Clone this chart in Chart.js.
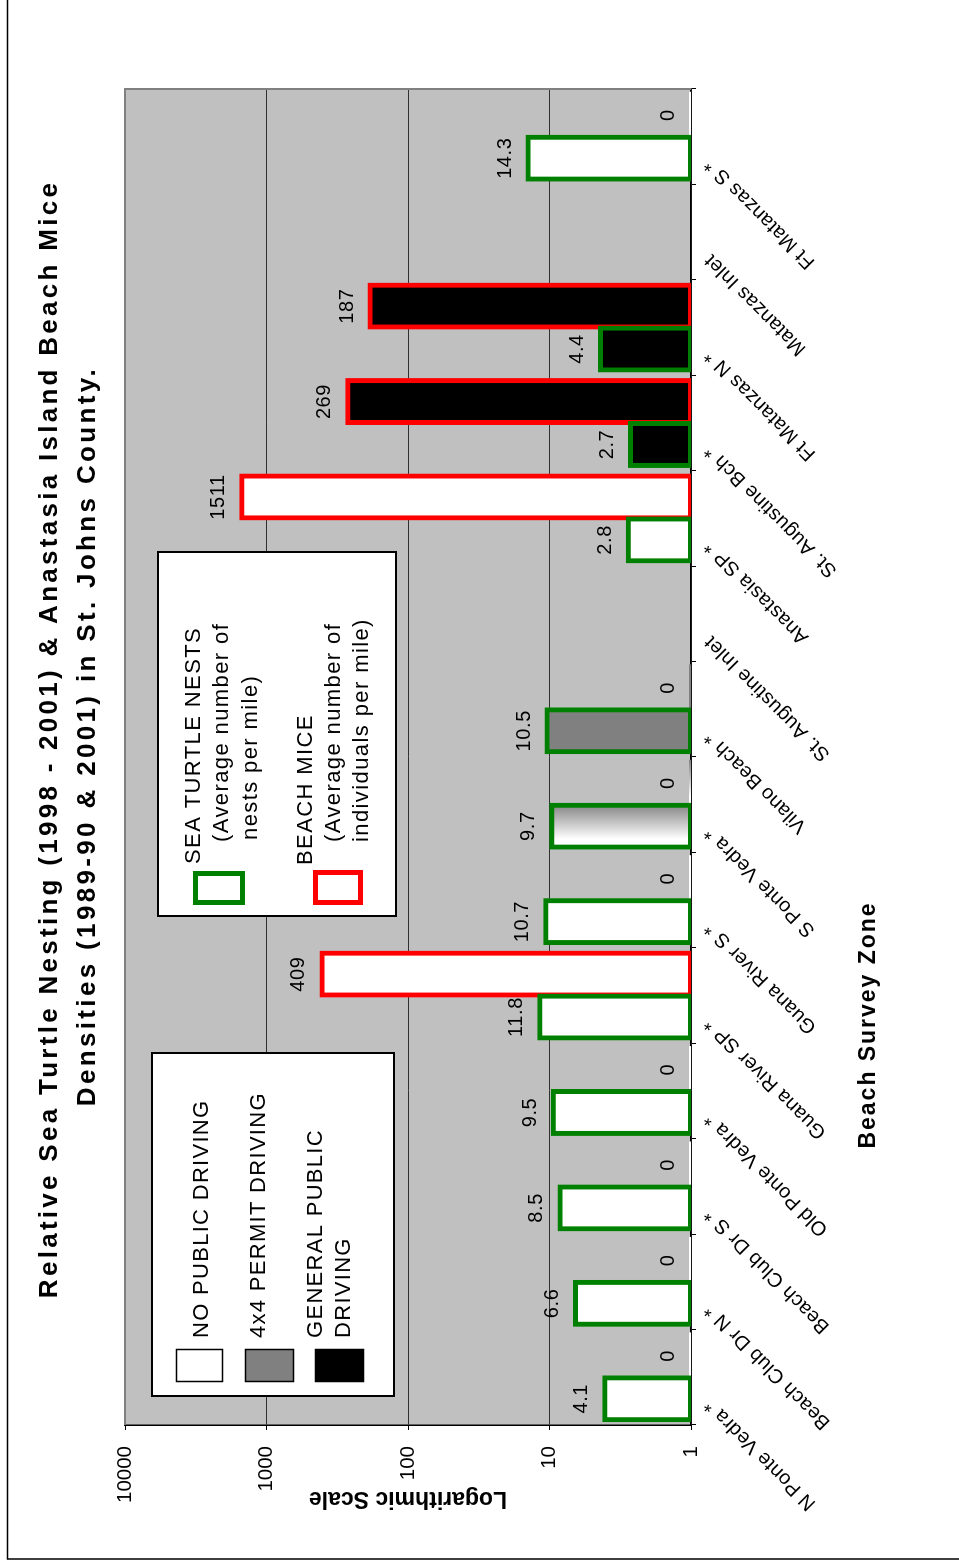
<!DOCTYPE html>
<html>
<head>
<meta charset="utf-8">
<script src="https://cdn.jsdelivr.net/npm/chart.js@4.4.1/dist/chart.umd.min.js"></script>
<style>
html,body{margin:0;padding:0;background:#fff;overflow:hidden;width:959px;height:1564px;}
#wrap{position:absolute;left:0;top:0;width:1564px;height:959px;transform-origin:0 0;transform:translate(0px,1564px) rotate(-90deg);}
canvas{display:block;}
</style>
</head>
<body>
<div id="wrap"><canvas id="c" width="1564" height="959"></canvas></div>
<script>
// ---------------- data ----------------
const categories = ['N Ponte Vedra *','Beach Club Dr N *','Beach Club Dr S *','Old Ponte Vedra *','Guana River SP *','Guana River S *','S Ponte Vedra *','Vilano Beach *','St. Augustine Inlet','Anastasia SP *','St. Augustine Bch *','Ft Matanzas N *','Matanzas Inlet','Ft Matanzas S *'];
const turtleNests = [4.1, 6.6, 8.5, 9.5, 11.8, 10.7, 9.7, 10.5, null, 2.8, 2.7, 4.4, null, 14.3];
const beachMice   = [0, 0, 0, 0, 409, 0, 0, 0, null, 1511, 269, 187, null, 0];
const drivingType = ['none','none','none','none','none','none','mixed','permit',null,'none','general','general',null,'none'];
const valueTicks  = [1, 10, 100, 1000, 10000];
const titleLines  = ['Relative Sea Turtle Nesting (1998 - 2001) & Anastasia Island Beach Mice', 'Densities (1989-90 & 2001) in St. Johns County.'];
const xAxisTitle  = 'Beach Survey Zone';
const yAxisTitle  = 'Logarithmic Scale';
const drivingLegend = [['NO PUBLIC DRIVING'], ['4x4 PERMIT DRIVING'], ['GENERAL PUBLIC', 'DRIVING']];
const seriesLegend  = [['SEA TURTLE NESTS', '(Average number of', 'nests per mile)'], ['BEACH MICE', '(Average number of', 'individuals per mile)']];

// ---------------- styles ----------------
const FONT = '"Liberation Sans", Arial, sans-serif';
const CAT_PCT = 0.9;
const INFLATE = 2;
const fillColors = { none: '#ffffff', permit: '#808080', general: '#000000' };

function barFill(c) {
  const t = drivingType[c.dataIndex];
  if (t === 'mixed') {
    const xs = c.chart.scales && c.chart.scales.x;
    if (!xs || !isFinite(xs.width) || xs.width <= 0) return '#e0e0e0';
    const center = xs.getPixelForValue(c.dataIndex);
    const bw = xs.width / categories.length * CAT_PCT / 2;
    const x0 = c.datasetIndex === 0 ? center - bw : center;
    const g = c.chart.ctx.createLinearGradient(x0, 0, x0 + bw, 0);
    g.addColorStop(0, '#ffffff');
    g.addColorStop(0.2, '#ffffff');
    g.addColorStop(1, '#858585');
    return g;
  }
  return fillColors[t] || '#ffffff';
}

function drawText(ctx, text, x, y, opts) {
  ctx.save();
  ctx.font = opts.font;
  ctx.fillStyle = opts.color || '#000';
  ctx.textBaseline = opts.baseline || 'alphabetic';
  let spacing = opts.spacing || 0;
  if (opts.width) {
    ctx.letterSpacing = '0px';
    const nat = ctx.measureText(text).width;
    spacing = Math.max(0, (opts.width - nat) / Math.max(1, text.length - 1));
  }
  ctx.letterSpacing = spacing + 'px';
  ctx.translate(x, y);
  if (opts.rotate) ctx.rotate(opts.rotate);
  const align = opts.align || 'left';
  const w = ctx.measureText(text).width;
  let sx = 0;
  if (align === 'center') sx = -w / 2;
  else if (align === 'right') sx = -w;
  ctx.textAlign = 'left';
  ctx.fillText(text, sx, 0);
  ctx.restore();
}

const decorPlugin = {
  id: 'decor',
  beforeDraw(chart) {
    const ctx = chart.ctx, a = chart.chartArea;
    ctx.save();
    ctx.fillStyle = '#ffffff';
    ctx.fillRect(0, 0, chart.width, chart.height);
    ctx.fillStyle = '#c0c0c0';
    ctx.fillRect(a.left, a.top, a.right - a.left, a.bottom - a.top);
    ctx.restore();
  },
  beforeDatasetsDraw(chart) {
    const ctx = chart.ctx, ys = chart.scales.y;
    [turtleNests, beachMice].forEach((arr, di) => {
      const meta = chart.getDatasetMeta(di);
      arr.forEach((v, i) => {
        if (v === null || v === undefined) return;
        const el = meta.data[i];
        const py = v > 0 ? ys.getPixelForValue(v) : ys.bottom;
        drawText(ctx, String(v), el.x, py - 17, { font: '20px ' + FONT, align: 'center', spacing: 0.6 });
      });
    });
  },
  afterDraw(chart) {
    const ctx = chart.ctx, a = chart.chartArea, xs = chart.scales.x;
    // plot area outline (gray, far side)
    ctx.save();
    ctx.strokeStyle = '#808080';
    ctx.lineWidth = 2;
    ctx.beginPath();
    ctx.moveTo(a.left, a.top); ctx.lineTo(a.right, a.top); ctx.lineTo(a.right, a.bottom);
    ctx.stroke();
    ctx.restore();

    // category labels
    categories.forEach((lab, i) => {
      const cx = xs.getPixelForValue(i);
      drawText(ctx, lab, cx - 25, a.bottom + 17, { font: '20px ' + FONT, align: 'right', baseline: 'middle', rotate: -Math.PI / 4, spacing: 0.3 });
    });

    // axis titles
    drawText(ctx, xAxisTitle, 539, 875, { font: 'bold 23px ' + FONT, align: 'center', width: 245 });
    drawText(ctx, yAxisTitle, 72, (a.top + a.bottom) / 2, { font: 'bold 23px ' + FONT, align: 'center', rotate: -Math.PI / 2, width: 198 });

    // chart title
    drawText(ctx, titleLines[0], 825, 57, { font: 'bold 26px ' + FONT, align: 'center', width: 1115 });
    drawText(ctx, titleLines[1], 828, 95, { font: 'bold 26px ' + FONT, align: 'center', width: 737 });

    // legend 1: driving type
    ctx.save();
    ctx.fillStyle = '#fff'; ctx.strokeStyle = '#000'; ctx.lineWidth = 2;
    ctx.fillRect(168, 152, 343, 242); ctx.strokeRect(168, 152, 343, 242);
    const keys1 = [[176, 47, '#ffffff'], [245, 49, '#808080'], [315, 49, '#000000']];
    keys1.forEach(k => {
      ctx.fillStyle = k[2]; ctx.fillRect(182, k[0], 33, k[1]);
      ctx.lineWidth = 1.5; ctx.strokeStyle = '#000'; ctx.strokeRect(182.5, k[0] + 0.5, 32, k[1] - 1);
    });
    ctx.restore();
    const base1 = [[208], [265], [322, 350]];
    drivingLegend.forEach((lines, i) => lines.forEach((t, j) =>
      drawText(ctx, t, 226, base1[i][j], { font: '22px ' + FONT, spacing: 1.3 })));

    // legend 2: series
    ctx.save();
    ctx.fillStyle = '#fff'; ctx.strokeStyle = '#000'; ctx.lineWidth = 2;
    ctx.fillRect(648, 158, 364, 238); ctx.strokeRect(648, 158, 364, 238);
    ctx.lineWidth = 5;
    ctx.fillStyle = '#fff';
    ctx.strokeStyle = '#008000'; ctx.fillRect(659, 193, 34, 52); ctx.strokeRect(661.5, 195.5, 29, 47);
    ctx.strokeStyle = '#ff0000'; ctx.fillRect(659, 313, 35, 50); ctx.strokeRect(661.5, 315.5, 30, 45);
    ctx.restore();
    const pos2 = [[[700, 200], [722, 228], [724, 257]], [[699, 312], [722, 340], [722, 368]]];
    seriesLegend.forEach((lines, i) => lines.forEach((t, j) =>
      drawText(ctx, t, pos2[i][j][0], pos2[i][j][1], { font: '22px ' + FONT, spacing: 1.4 })));

    // outer frame
    ctx.save();
    ctx.strokeStyle = '#000'; ctx.lineWidth = 1.5;
    ctx.beginPath();
    ctx.moveTo(5, chart.height); ctx.lineTo(5, 7.5); ctx.lineTo(chart.width, 7.5);
    ctx.stroke();
    ctx.restore();
  }
};

new Chart(document.getElementById('c'), {
  type: 'bar',
  data: {
    labels: categories,
    datasets: [
      { label: 'SEA TURTLE NESTS', data: turtleNests, backgroundColor: barFill, borderColor: '#008000',
        borderWidth: c => (c.raw > 0 ? 5 : 0), borderSkipped: false, inflateAmount: INFLATE, clip: 0,
        categoryPercentage: CAT_PCT, barPercentage: 1 },
      { label: 'BEACH MICE', data: beachMice, backgroundColor: barFill, borderColor: '#ff0000',
        borderWidth: c => (c.raw > 0 ? 5 : 0), borderSkipped: false, inflateAmount: INFLATE, clip: 0,
        categoryPercentage: CAT_PCT, barPercentage: 1 }
    ]
  },
  options: {
    responsive: false,
    animation: false,
    devicePixelRatio: 1,
    layout: { padding: { left: 0, top: 125, right: 89, bottom: 0 } },
    plugins: { legend: { display: false }, title: { display: false }, tooltip: { enabled: false } },
    scales: {
      x: {
        type: 'category',
        offset: true,
        z: 1,
        grid: { offset: true, drawOnChartArea: false, drawTicks: true, tickLength: 5, tickColor: '#000', lineWidth: 1 },
        border: { display: true, color: '#000', width: 1.5 },
        ticks: { display: false },
        afterFit(s) { s.height = 268; }
      },
      y: {
        type: 'logarithmic',
        min: 1,
        max: 10000,
        afterBuildTicks(s) { s.ticks = valueTicks.map(v => ({ value: v })); },
        ticks: { callback: v => String(v), font: { family: FONT, size: 20.5 }, color: '#000', padding: 16, autoSkip: false },
        grid: { color: c => (c.tick && c.tick.value === 10000 ? '#808080' : '#303030'), tickColor: '#000', tickLength: 5, lineWidth: 1 },
        border: { display: true, color: '#000', width: 1.5 },
        afterFit(s) { s.width = 139; }
      }
    }
  },
  plugins: [decorPlugin]
});
</script>
</body>
</html>
